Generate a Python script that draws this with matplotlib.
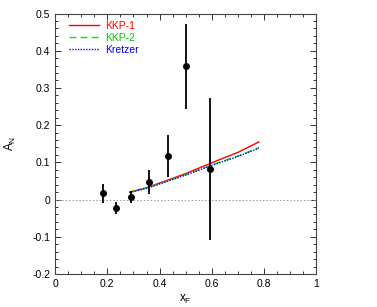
import matplotlib
matplotlib.use("Agg")
import matplotlib.pyplot as plt
import numpy as np
from matplotlib.ticker import MultipleLocator

plt.rcParams['font.family'] = ['Liberation Sans', 'DejaVu Sans']

# data points
xf = [0.183, 0.232, 0.292, 0.361, 0.432, 0.500, 0.591]
an = [0.017, -0.023, 0.006, 0.048, 0.117, 0.358, 0.082]
an_err = [0.026, 0.017, 0.016, 0.032, 0.057, 0.115, 0.19]

# theory curves
cx = [0.285, 0.35, 0.43, 0.50, 0.60, 0.70, 0.78]
kkp1 = [0.020, 0.032, 0.052, 0.070, 0.099, 0.127, 0.155]
kkp2 = [0.020, 0.031, 0.050, 0.067, 0.093, 0.117, 0.140]
kretzer = [0.019, 0.030, 0.049, 0.066, 0.092, 0.116, 0.138]

xticks = [0, 0.2, 0.4, 0.6, 0.8, 1.0]
xticklabels = ['0', '0.2', '0.4', '0.6', '0.8', '1']
yticks = [-0.2, -0.1, 0, 0.1, 0.2, 0.3, 0.4, 0.5]
yticklabels = ['-0.2', '-0.1', '0', '0.1', '0.2', '0.3', '0.4', '0.5']

fig = plt.figure(figsize=(3.77, 3.07), dpi=100)
ax = fig.add_axes([0.146, 0.1075, 0.6935, 0.8485])

ax.axhline(0, color='#999999', lw=0.7, ls=(0, (1.5, 2)))
ax.plot(cx, kkp1, color='#ff0000', lw=1.0, ls='-', label='KKP-1')
ax.plot(cx, kkp2, color='#00ee00', lw=1.0, ls=(0, (5, 3)), label='KKP-2')
ax.plot(cx, kretzer, color='#0000ff', lw=1.0, ls=(0, (1, 1)), label='Kretzer')
ax.errorbar(xf, an, yerr=an_err, fmt='o', color='black', ms=4, elinewidth=1.3, capsize=0)

ax.set_xlim(0, 1)
ax.set_ylim(-0.2, 0.5)
ax.set_xticks(xticks)
ax.set_xticklabels(xticklabels)
ax.set_yticks(yticks)
ax.set_yticklabels(yticklabels)
ax.xaxis.set_minor_locator(MultipleLocator(0.05))
ax.yaxis.set_minor_locator(MultipleLocator(0.02))
ax.tick_params(which='both', direction='in', top=True, right=True, colors='#333333', labelcolor='black', labelsize=7.5, width=0.7)
ax.tick_params(which='major', length=4)
ax.tick_params(which='minor', length=2)
for s in ax.spines.values():
    s.set_color('#444444')
    s.set_linewidth(0.8)

ax.set_xlabel('x$_\\mathregular{F}$', fontsize=8.5, labelpad=3)
ax.set_ylabel('A$_\\mathregular{N}$', fontsize=8.5, labelpad=10)

leg = ax.legend(loc='upper left', frameon=False, fontsize=7.5, handlelength=2.9,
                borderaxespad=0.3, labelspacing=0.2, handletextpad=0.6,
                bbox_to_anchor=(0.025, 1.0))
for t, c in zip(leg.get_texts(), ['#ff0000', '#00cc00', '#0000ff']):
    t.set_color(c)

fig.savefig('out.png', dpi=100)
